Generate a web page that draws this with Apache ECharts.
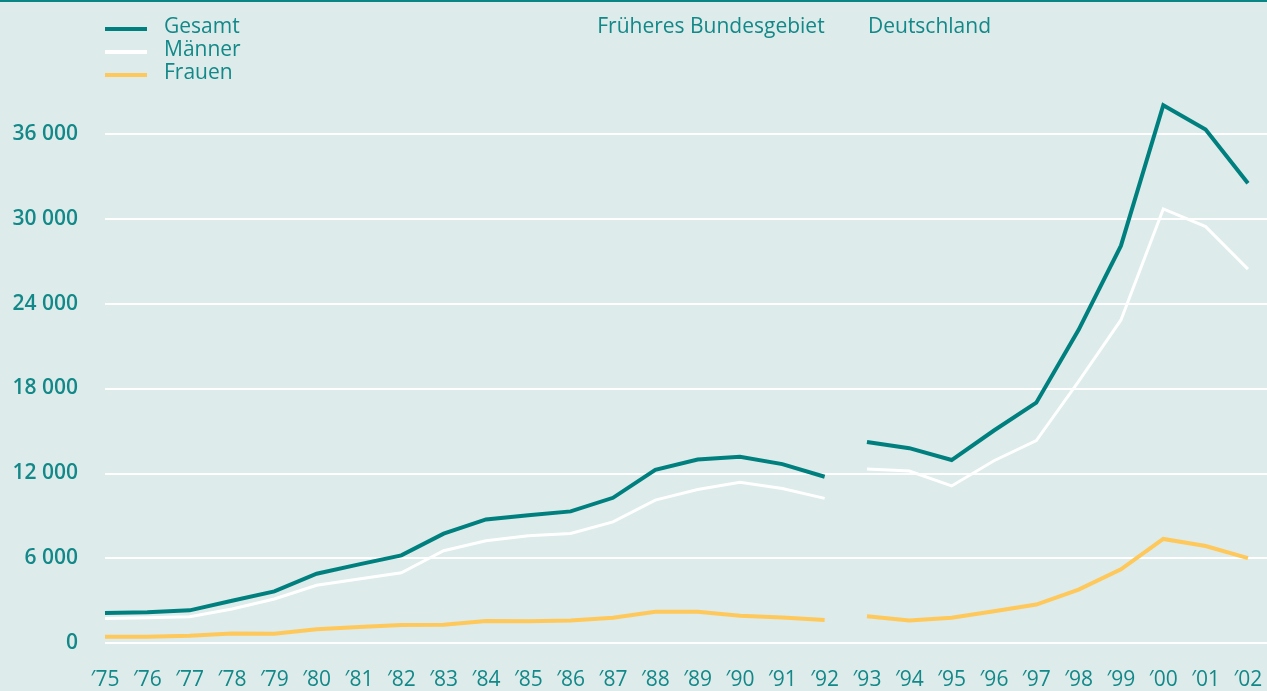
<!DOCTYPE html>
<html>
<head>
<meta charset="utf-8">
<script src="https://cdn.jsdelivr.net/npm/echarts@6/dist/echarts.min.js"></script>
<style>
  html, body { margin: 0; padding: 0; background: #ddebeb; }
  #chart { width: 1267px; height: 691px; }
</style>
</head>
<body>
<div id="chart"></div>
<script>
// Years: former West Germany (1975–1992) and unified Germany (1993–2002)
const yearsWest = [1975, 1976, 1977, 1978, 1979, 1980, 1981, 1982, 1983, 1984, 1985, 1986, 1987, 1988, 1989, 1990, 1991, 1992];
const yearsGermany = [1993, 1994, 1995, 1996, 1997, 1998, 1999, 2000, 2001, 2002];

// Früheres Bundesgebiet
const gesamtWest  = [2120, 2170, 2310, 2990, 3650, 4900, 5560, 6200, 7730, 8740, 9030, 9310, 10270, 12250, 12980, 13170, 12650, 11760];
const maennerWest = [1740, 1790, 1860, 2400, 3110, 4080, 4520, 4970, 6530, 7230, 7590, 7750, 8570, 10110, 10860, 11360, 10930, 10230];
const frauenWest  = [450, 450, 520, 680, 660, 970, 1130, 1270, 1290, 1550, 1530, 1600, 1790, 2210, 2210, 1930, 1810, 1620];

// Deutschland
const gesamtGermany  = [14220, 13780, 12940, 15030, 17000, 22150, 28100, 38040, 36310, 32520];
const maennerGermany = [12310, 12160, 11110, 12890, 14310, 18500, 22850, 30700, 29450, 26440];
const frauenGermany  = [1890, 1600, 1780, 2250, 2720, 3780, 5210, 7360, 6860, 6000];

const seriesNames = ['Gesamt', 'Männer', 'Frauen'];
const periodLabels = ['Früheres Bundesgebiet', 'Deutschland'];
const yStep = 6000;
const yTop = 36000;

const TEAL = '#007f7f';
const TEXT = '#138888';
const WHITE = '#ffffff';
const YELLOW = '#ffc85a';
const FONT = '"Open Sans", "DejaVu Sans", sans-serif';

const pairs = (xs, ys) => xs.map((x, i) => [x, ys[i]]);

function line(name, xs, ys, color, width, z) {
  return {
    name: name,
    type: 'line',
    data: pairs(xs, ys),
    symbol: 'none',
    clip: false,
    z: z,
    color: color,
    lineStyle: { color: color, width: width, join: 'miter' }
  };
}

const chart = echarts.init(document.getElementById('chart'), null, { renderer: 'canvas' });

chart.setOption({
  backgroundColor: '#ddebeb',
  animation: false,
  grid: { left: 105, right: 0, top: 134, bottom: 48 },
  legend: {
    data: seriesNames,
    orient: 'vertical',
    left: 105,
    top: 16,
    padding: 0,
    itemGap: 1,
    itemWidth: 42,
    itemHeight: 8,
    // bar sits in the lower half of the icon box, slightly below the text middle
    icon: 'path://M0,0h0.01v0.01h-0.01z M0,4h42v4H0z',
    selectedMode: false,
    textStyle: {
      color: TEXT,
      fontFamily: FONT,
      fontSize: 21,
      lineHeight: 22,
      padding: [0, 0, 0, 12]
    }
  },
  xAxis: {
    type: 'value',
    min: 1975,
    max: 2002.45,
    interval: 1,
    axisLine: { show: false },
    axisTick: { show: false },
    splitLine: { show: false },
    axisLabel: {
      showMaxLabel: false,
      color: TEXT,
      fontFamily: FONT,
      fontSize: 21,
      fontWeight: 500,
      margin: 27,
      formatter: v => Number.isInteger(v) ? '\u2032' + String(v).slice(2) : ''
    }
  },
  yAxis: {
    type: 'value',
    min: 0,
    max: yTop,
    interval: yStep,
    axisLine: { show: false },
    axisTick: { show: false },
    splitLine: { lineStyle: { color: WHITE, width: 2 } },
    axisLabel: {
      color: TEXT,
      fontFamily: FONT,
      fontSize: 21,
      fontWeight: 600,
      margin: 27,
      formatter: v => String(v).replace(/\B(?=(\d{3})+(?!\d))/g, ' ')
    }
  },
  series: [
    line(seriesNames[2], yearsWest, frauenWest, YELLOW, 4, 2),
    line(seriesNames[2], yearsGermany, frauenGermany, YELLOW, 4, 2),
    line(seriesNames[1], yearsWest, maennerWest, WHITE, 3, 3),
    line(seriesNames[1], yearsGermany, maennerGermany, WHITE, 3, 3),
    line(seriesNames[0], yearsWest, gesamtWest, TEAL, 4, 4),
    line(seriesNames[0], yearsGermany, gesamtGermany, TEAL, 4, 4)
  ]
});

// Period captions anchored at the last West year and the first all-German year
const xEndWest = chart.convertToPixel({ xAxisIndex: 0 }, yearsWest[yearsWest.length - 1]);
const xStartGermany = chart.convertToPixel({ xAxisIndex: 0 }, yearsGermany[0]);

chart.setOption({
  graphic: [
    {
      type: 'rect',
      shape: { x: 0, y: 0, width: 1267, height: 2 },
      style: { fill: '#0a8585' },
      silent: true
    },
    {
      type: 'text',
      x: xEndWest,
      y: 27,
      style: {
        text: periodLabels[0],
        fill: TEXT,
        font: '21px ' + FONT,
        align: 'right',
        verticalAlign: 'middle'
      }
    },
    {
      type: 'text',
      x: xStartGermany + 1,
      y: 27,
      style: {
        text: periodLabels[1],
        fill: TEXT,
        font: '21px ' + FONT,
        align: 'left',
        verticalAlign: 'middle'
      }
    }
  ]
});
</script>
</body>
</html>
